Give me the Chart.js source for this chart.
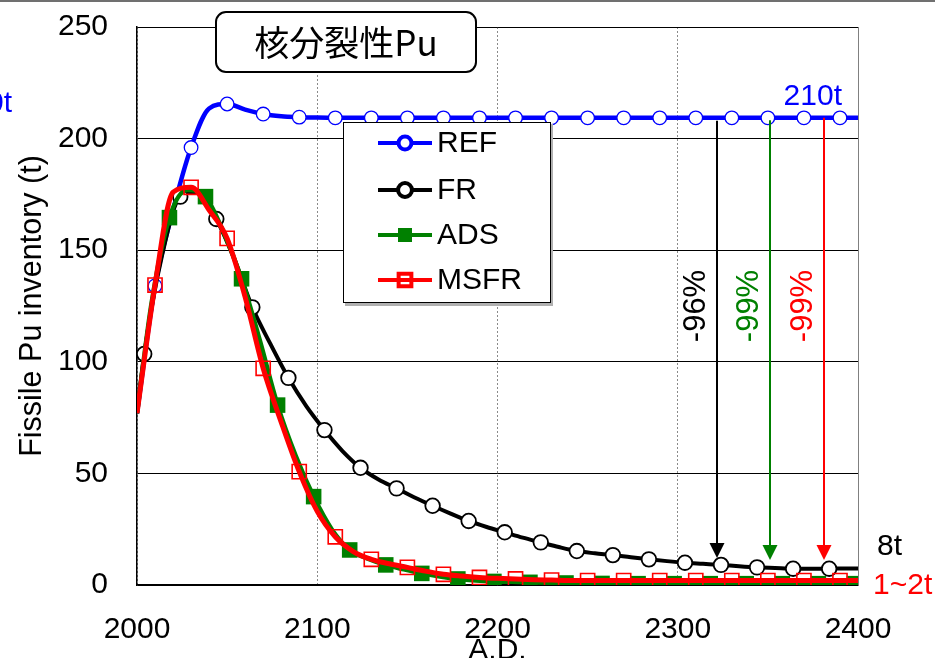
<!DOCTYPE html>
<html>
<head>
<meta charset="utf-8">
<script src="https://cdn.jsdelivr.net/npm/chart.js@4.4.0/dist/chart.umd.min.js"></script>
<style>
  html, body { margin: 0; padding: 0; background: #fff; }
  #wrap { width: 935px; height: 658px; }
</style>
</head>
<body>
<div id="wrap"><canvas id="myChart" width="935" height="658"></canvas></div>
<script>
// years / values
const decadeYears = [2000, 2010, 2020, 2030, 2040, 2050, 2060, 2070, 2080, 2090,
    2100, 2110, 2120, 2130, 2140, 2150, 2160, 2170, 2180, 2190,
    2200, 2210, 2220, 2230, 2240, 2250, 2260, 2270, 2280, 2290,
    2300, 2310, 2320, 2330, 2340, 2350, 2360, 2370, 2380, 2390, 2400];

const refValues = [77, 134, 168, 196, 213.5, 215.5, 213, 211, 210, 209.6,
    209.4, 209.3, 209.3, 209.3, 209.3, 209.3, 209.3, 209.3, 209.3, 209.3,
    209.3, 209.3, 209.3, 209.3, 209.3, 209.3, 209.3, 209.3, 209.3, 209.3,
    209.3, 209.3, 209.3, 209.3, 209.3, 209.3, 209.3, 209.3, 209.3, 209.3, 209.3];

const msfrValues = [77, 134.4, 176, 178.2, 168, 155.3, 129, 97.1, 73, 50.8,
    33, 21.6, 15, 11.5, 9.5, 7.9, 6.2, 4.8, 4.0, 3.4,
    3.0, 2.7, 2.4, 2.2, 2.0, 2.0, 2.0, 2.0, 2.0, 2.0,
    2.0, 2.0, 2.0, 2.0, 2.0, 2.0, 2.0, 2.0, 2.0, 2.0, 2.0];

const frYears = [2000, 2004, 2014, 2024, 2034, 2044, 2054, 2064, 2074, 2084,
    2094, 2104, 2114, 2124, 2134, 2144, 2154, 2164, 2174, 2184,
    2194, 2204, 2214, 2224, 2234, 2244, 2254, 2264, 2274, 2284,
    2294, 2304, 2314, 2324, 2334, 2344, 2354, 2364, 2374, 2384, 2394, 2400];

const frValues = [77, 103.5, 148, 174, 176, 164, 146, 124.4, 108, 92.8,
    80, 69.4, 60, 52.5, 47.3, 43.3, 39.2, 35.5, 32, 28.7,
    26, 23.6, 21.2, 19.1, 17, 15.2, 14.2, 13.4, 12.4, 11.5,
    10.7, 10.0, 9.5, 9.0, 8.4, 7.9, 7.6, 7.3, 7.3, 7.3, 7.4, 7.4];

const adsYears = [2000, 2008, 2018, 2028, 2038, 2048, 2058, 2068, 2078, 2088,
    2098, 2108, 2118, 2128, 2138, 2148, 2158, 2168, 2178, 2188,
    2198, 2208, 2218, 2228, 2238, 2248, 2258, 2268, 2278, 2288,
    2298, 2308, 2318, 2328, 2338, 2348, 2358, 2368, 2378, 2388, 2398, 2400];

const adsValues = [77, 126, 164.6, 177, 174, 158, 137.2, 110, 80.6, 58,
    39.6, 25, 15.7, 11.8, 9.0, 7.0, 5.2, 3.8, 2.7, 2.0,
    1.6, 1.4, 1.2, 1.0, 0.9, 0.8, 0.7, 0.6, 0.6, 0.6,
    0.6, 0.6, 0.6, 0.6, 0.6, 0.6, 0.6, 0.6, 0.6, 0.6, 0.6, 0.6];

const xTicks = [2000, 2100, 2200, 2300, 2400];
const yTicks = [0, 50, 100, 150, 200, 250];

// reduction arrows: year, from, to (t)
const arrowYears = [2322, 2351, 2381];
const arrowFrom = [208, 208.2, 209.3];
const arrowTo = [12.1, 11.2, 11.2];
const arrowLabels = ['-96%', '-99%', '-99%'];
const arrowColors = ['#000000', '#008000', '#ff0000'];

const FONT = '"Liberation Sans", Arial, sans-serif';

// markers only every 20 years
function markerSizes(years, first, r) {
    return years.map(y => (y >= first && (y - first) % 20 === 0) ? r : 0);
}
function toPoints(years, values) {
    return years.map((y, i) => ({ x: y, y: values[i] }));
}

const datasets = [
    {
        label: 'REF',
        data: toPoints(decadeYears, refValues),
        borderColor: '#0000ff', borderWidth: 4.5,
        pointStyle: 'circle',
        pointRadius: markerSizes(decadeYears, 2010, 6.8),
        pointBackgroundColor: '#ffffff', pointBorderColor: '#0000ff', pointBorderWidth: 1.3,
        order: 4
    },
    {
        label: 'FR',
        data: toPoints(frYears, frValues),
        borderColor: '#000000', borderWidth: 4,
        pointStyle: 'circle',
        pointRadius: markerSizes(frYears, 2004, 7.3),
        pointBackgroundColor: '#ffffff', pointBorderColor: '#000000', pointBorderWidth: 1.8,
        order: 3
    },
    {
        label: 'ADS',
        data: toPoints(adsYears, adsValues),
        borderColor: '#008000', borderWidth: 4.5,
        pointStyle: 'rect',
        pointRadius: markerSizes(adsYears, 2018, 11),
        pointBackgroundColor: '#008000', pointBorderColor: '#008000', pointBorderWidth: 0,
        order: 2
    },
    {
        label: 'MSFR',
        data: toPoints(decadeYears, msfrValues),
        borderColor: '#ff0000', borderWidth: 5,
        pointStyle: 'rect',
        pointRadius: markerSizes(decadeYears, 2010, 10),
        pointBackgroundColor: 'rgba(0,0,0,0)', pointBorderColor: '#ff0000', pointBorderWidth: 1.6,
        order: 1
    }
];

function roundRect(ctx, x, y, w, h, r) {
    ctx.beginPath();
    ctx.moveTo(x + r, y);
    ctx.lineTo(x + w - r, y);
    ctx.arcTo(x + w, y, x + w, y + r, r);
    ctx.lineTo(x + w, y + h - r);
    ctx.arcTo(x + w, y + h, x + w - r, y + h, r);
    ctx.lineTo(x + r, y + h);
    ctx.arcTo(x, y + h, x, y + h - r, r);
    ctx.lineTo(x, y + r);
    ctx.arcTo(x, y, x + r, y, r);
    ctx.closePath();
}

const extras = {
    id: 'extras',
    beforeDraw(chart) {
        const ctx = chart.ctx;
        ctx.save();
        ctx.fillStyle = '#ffffff';
        ctx.fillRect(0, 0, chart.width, chart.height);
        ctx.fillStyle = '#707070';
        ctx.fillRect(0, 0, chart.width, 2);
        ctx.restore();
    },
    beforeDatasetsDraw(chart) {
        const ctx = chart.ctx, a = chart.chartArea;
        ctx.save();
        ctx.strokeStyle = '#808080';
        ctx.lineWidth = 1;
        ctx.beginPath();
        ctx.moveTo(a.right + 0.5, a.top);
        ctx.lineTo(a.right + 0.5, a.bottom);
        ctx.stroke();
        ctx.restore();
    },
    afterDatasetsDraw(chart) {
        const ctx = chart.ctx;
        const xs = chart.scales.x, ys = chart.scales.y;
        ctx.save();

        // arrows
        arrowYears.forEach((yr, i) => {
            const px = Math.round(xs.getPixelForValue(yr));
            const top = ys.getPixelForValue(arrowFrom[i]);
            const tip = ys.getPixelForValue(arrowTo[i]);
            ctx.strokeStyle = arrowColors[i];
            ctx.fillStyle = arrowColors[i];
            ctx.lineWidth = 2;
            ctx.beginPath();
            ctx.moveTo(px, top);
            ctx.lineTo(px, tip - 10);
            ctx.stroke();
            ctx.beginPath();
            ctx.moveTo(px - 7.5, tip - 15);
            ctx.lineTo(px + 7.5, tip - 15);
            ctx.lineTo(px, tip);
            ctx.closePath();
            ctx.fill();

            ctx.save();
            ctx.translate(px - 20.5, ys.getPixelForValue(125));
            ctx.rotate(-Math.PI / 2);
            ctx.font = '31px ' + FONT;
            ctx.textAlign = 'center';
            ctx.textBaseline = 'middle';
            ctx.fillText(arrowLabels[i], 0, 0);
            ctx.restore();
        });

        // value labels
        ctx.font = '30px ' + FONT;
        ctx.textBaseline = 'middle';
        ctx.fillStyle = '#0000ff';
        ctx.textAlign = 'right';
        ctx.fillText('210t', 842, 97);
        ctx.fillText('210t', 12, 104);
        ctx.textAlign = 'left';
        ctx.fillStyle = '#000000';
        ctx.fillText('8t', 877, 547);
        ctx.fillStyle = '#ff0000';
        ctx.fillText('1~2t', 873, 586);

        // legend box
        ctx.fillStyle = '#b0b0b0';
        ctx.fillRect(345, 124, 208, 182);
        ctx.fillStyle = '#ffffff';
        ctx.fillRect(343, 122, 208, 181);
        ctx.strokeStyle = '#000000';
        ctx.lineWidth = 1;
        ctx.strokeRect(343.5, 122.5, 207, 180);
        const rows = [143, 190, 235, 280];
        const legendOrder = ['REF', 'FR', 'ADS', 'MSFR'];
        legendOrder.forEach((name, i) => {
            const ds = datasets.find(d => d.label === name);
            const y = rows[i];
            ctx.strokeStyle = ds.borderColor;
            ctx.lineWidth = 4;
            ctx.beginPath();
            ctx.moveTo(378, y);
            ctx.lineTo(432, y);
            ctx.stroke();
            ctx.fillStyle = ds.pointBackgroundColor;
            ctx.strokeStyle = ds.pointBorderColor;
            const r = Math.max(...ds.pointRadius);
            Chart.helpers.drawPoint(ctx, {
                pointStyle: ds.pointStyle, rotation: 0,
                radius: ds.pointStyle === 'rect' ? r * 0.9 : r * 0.95,
                borderWidth: ds.pointBorderWidth
            }, 405, y);
            ctx.fillStyle = '#000000';
            ctx.font = '30px ' + FONT;
            ctx.textAlign = 'left';
            ctx.textBaseline = 'middle';
            ctx.fillText(name, 437, y + 1);
        });

        // title box
        roundRect(ctx, 216, 12, 260, 60, 10);
        ctx.fillStyle = '#ffffff';
        ctx.fill();
        ctx.strokeStyle = '#000000';
        ctx.lineWidth = 2;
        ctx.stroke();
        ctx.fillStyle = '#000000';
        ctx.font = '35px "Noto Sans CJK JP", sans-serif';
        ctx.textAlign = 'center';
        ctx.textBaseline = 'middle';
        ctx.fillText('核分裂性Pu', 346, 43);

        ctx.restore();
    }
};

const ctx = document.getElementById('myChart').getContext('2d');
new Chart(ctx, {
    type: 'line',
    data: { datasets: datasets },
    options: {
        responsive: false,
        animation: false,
        devicePixelRatio: 1,
        events: [],
        layout: { padding: { top: 27, right: 77, left: 0, bottom: 0 } },
        elements: { line: { cubicInterpolationMode: 'monotone' } },
        plugins: { legend: { display: false }, tooltip: { enabled: false } },
        scales: {
            x: {
                type: 'linear',
                min: 2000, max: 2400,
                afterBuildTicks: s => { s.ticks = xTicks.map(v => ({ value: v })); },
                afterFit: s => { s.height = 73; s.paddingLeft = 0; s.paddingRight = 0; },
                ticks: { color: '#000', font: { family: FONT, size: 30 }, padding: 27, maxRotation: 0,
                         callback: v => String(v) },
                grid: { color: '#8a8a8a', lineWidth: 1, drawTicks: false },
                border: { color: '#000', width: 1.5, dash: [2, 2] },
                title: { display: true, text: 'A.D.', color: '#000', font: { family: FONT, size: 30 }, padding: { top: 0, bottom: -11 } }
            },
            y: {
                min: 0, max: 250,
                afterBuildTicks: s => { s.ticks = yTicks.map(v => ({ value: v })); },
                afterFit: s => { s.width = 137; s.paddingTop = 0; s.paddingBottom = 0; },
                ticks: { color: '#000', font: { family: FONT, size: 30 }, padding: 29, callback: v => String(v) },
                grid: { color: '#000', lineWidth: 1, drawTicks: false },
                border: { color: '#000', width: 1.5 },
                title: { display: true, text: 'Fissile Pu inventory (t)', color: '#000', font: { family: FONT, size: 30.5 }, padding: { top: 14, bottom: 0 } }
            }
        }
    },
    plugins: [extras]
});
</script>
</body>
</html>
